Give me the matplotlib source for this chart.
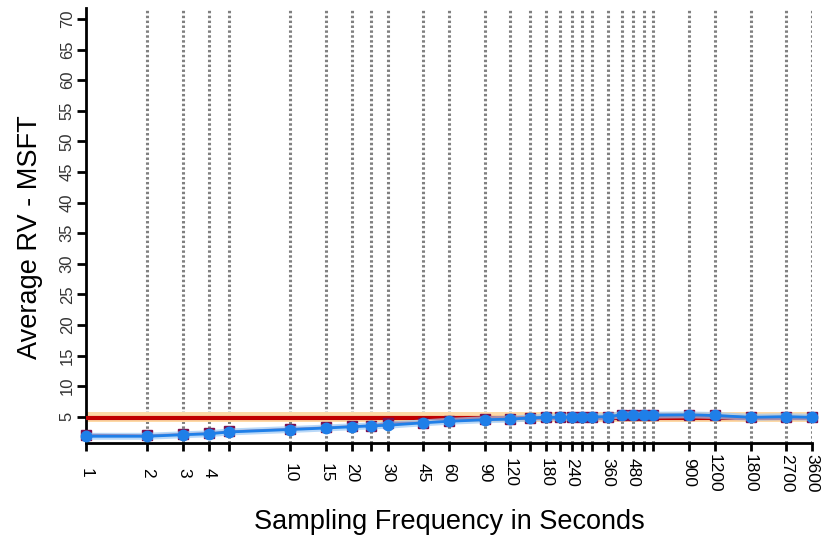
import numpy as np
import matplotlib
matplotlib.use("Agg")
import matplotlib.pyplot as plt

plt.rcParams['font.family'] = ['Liberation Sans', 'DejaVu Sans']

# sampling intervals (seconds)
secs = [1, 2, 3, 4, 5, 10, 15, 20, 25, 30, 45, 60, 90, 120, 150, 180, 210, 240,
        270, 300, 360, 420, 480, 540, 600, 900, 1200, 1800, 2700, 3600]

# average realized variance, two estimates
rv_blue = [1.8, 1.8, 2.05, 2.2, 2.5, 2.9, 3.15, 3.35, 3.5, 3.6, 4.0, 4.25, 4.5, 4.6,
           4.8, 4.9, 4.9, 4.95, 4.95, 4.95, 5.0, 5.3, 5.3, 5.25, 5.25, 5.3, 5.2,
           4.9, 5.0, 4.9]
rv_red = [2.05, 1.95, 2.15, 2.3, 2.6, 3.0, 3.25, 3.45, 3.55, 4.0, 4.05, 4.3, 4.55,
          4.65, 4.8, 4.9, 4.9, 4.95, 4.95, 5.0, 5.0, 5.35, 5.35, 5.35, 5.35, 5.35,
          5.25, 4.9, 5.0, 4.9]

# reference level and its band
ref_level = 4.75
ref_low = 4.2
ref_high = 5.8

labelled = [1, 2, 3, 4, 10, 15, 20, 30, 45, 60, 90, 120, 180, 240, 360, 480,
            900, 1200, 1800, 2700, 3600]
yticks = list(range(5, 75, 5))

W, H = 823, 544
fig = plt.figure(figsize=(W / 100, H / 100), dpi=100)
ax = fig.add_axes([86 / W, (H - 443) / H, (812 - 86) / W, (443 - 8) / H])

ax.set_xscale('log')
ax.set_xlim(1, 3600)
ax.set_ylim(0.7, 71.8)

# dotted guide lines at each sampling interval
for s in secs[1:]:
    ax.axvline(s, color='#808080', linestyle=(0, (0.8, 0.8)), linewidth=2.2, zorder=1)

ax.fill_between([1, 3600], ref_low, ref_high, color='#fdd9a6', zorder=2, linewidth=0)
ax.plot([1, 3600], [ref_level, ref_level], color='#c00000', linewidth=3, zorder=3)

ax.plot(secs, rv_red, color='#7a1050', linewidth=1.5, marker='s', markersize=7,
        markerfacecolor='#8b1040', markeredgecolor='#7a1050', zorder=4, clip_on=False)
ax.plot(secs, rv_blue, color='#9cc8f5', linewidth=5, alpha=0.7, zorder=5, clip_on=False)
ax.plot(secs, rv_blue, color='#1f7fe8', linewidth=2, marker='o', markersize=7.5,
        markerfacecolor='#1f7fe8', markeredgecolor='#1f7fe8', zorder=6, clip_on=False)

ax.set_xticks(secs)
ax.set_xticklabels([str(s) if s in labelled else '' for s in secs],
                   rotation=270, va='center', ha='center', fontsize=12.5)
ax.xaxis.set_minor_locator(matplotlib.ticker.NullLocator())
ax.set_yticks(yticks)
ax.set_yticklabels([str(v) for v in yticks], rotation=90, va='center', ha='center',
                   fontsize=12, color='#333333')

ax.tick_params(axis='x', length=5.5, width=2, pad=16, colors='black')
ax.tick_params(axis='y', length=6.5, width=2, pad=7)

for side in ['top', 'right']:
    ax.spines[side].set_visible(False)
for side in ['left', 'bottom']:
    ax.spines[side].set_linewidth(2)

ax.set_xlabel('Sampling Frequency in Seconds', fontsize=19.5, va='center', ha='center')
ax.xaxis.set_label_coords(0.5, -79 / 435)
ax.set_ylabel('Average RV - MSFT', fontsize=19.5, va='center', ha='center')
ax.yaxis.set_label_coords(-56 / 726, (443 - 237) / 435)

fig.savefig('out.png', dpi=100)
